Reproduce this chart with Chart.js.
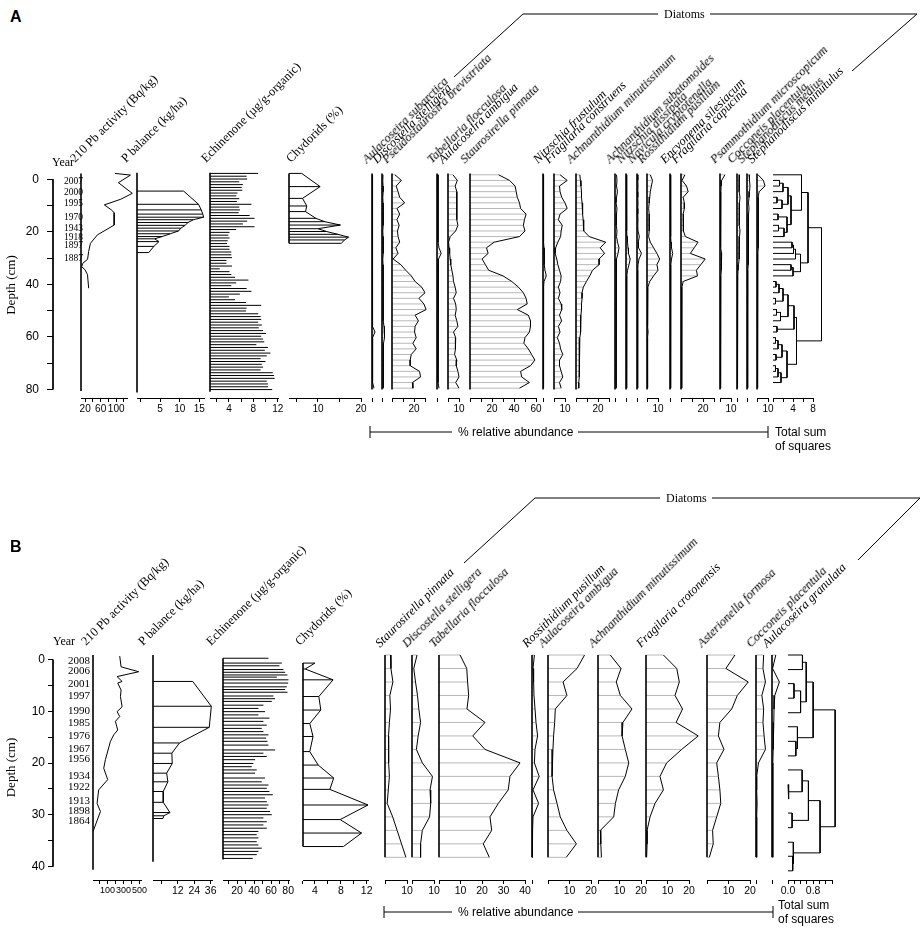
<!DOCTYPE html>
<html>
<head>
<meta charset="utf-8">
<title>Stratigraphic diagram</title>
<script src="https://cdn.jsdelivr.net/npm/chart.js@4.4.1/dist/chart.umd.min.js"></script>
<style>
  body { margin: 0; background: #fff; }
  #page { position: relative; width: 924px; height: 935px; overflow: hidden; font-family: "Liberation Serif", serif; color: #000; }
  #page canvas { position: absolute; }
  .rot { position: absolute; height: 14px; line-height: 14px; font-size: 12.5px; white-space: nowrap; transform-origin: 0 100%; transform: rotate(-45deg); }
  .taxon { font-style: italic; }
  .txt { position: absolute; white-space: nowrap; line-height: 14px; }
  .sans { font-family: "Liberation Sans", Arial, sans-serif; font-size: 12px; }
  .serif { font-size: 12px; }
  .panel { font-family: "Liberation Sans", Arial, sans-serif; font-weight: bold; font-size: 16px; }
  svg { position: absolute; left: 0; top: 0; }
</style>
</head>
<body>
<div id="page">
<svg width="924" height="935">
  <g fill="none" stroke="#000" stroke-width="1">
    <polyline points="454,77 523,14 658,14"/>
    <polyline points="710,14 917,14 852,71"/>
    <polyline points="464,563 535,498 660,498"/>
    <polyline points="712,498 920,498 858,560"/>
    <path d="M370 426V438M768 426V438M370 432H452M578 432H768"/>
    <path d="M384 906V918M773 906V918M384 912H452M578 912H773"/>
  </g>
</svg>
</div>
<script>
// ---------- Panel A data ----------
const yearsA = ['2007', '2000', '1995', '1970', '1943', '1918', '1897', '1887'];
const yearDepthsA = [0.7, 5.2, 9.4, 14.5, 18.9, 22.1, 25.4, 30.1];

// 210 Pb activity (Bq/kg)
const pbDepthA = [0.5, 1.1, 3.8, 7.6, 9.7, 11.7, 13.5, 14.5, 18.9, 22.4, 25.4, 28.3, 31.1, 32.5, 33.7, 34.9, 36.6, 41.4];
const pbA = [96.6, 137, 105.7, 141.6, 112, 69.5, 87.6, 94.9, 94.9, 51.6, 33.5, 29, 26.2, 13.8, 11, 20, 26, 29];

// P balance (kg/ha)
const pbalDepthA = [6.8, 11.5, 13.5, 15, 16.1, 17, 18, 19, 20, 21, 22, 23, 23.8, 24.8, 26.5, 28.7];
const pbalA = [11.0, 14.8, 15.5, 15.9, 16.1, 13.5, 12.1, 11.4, 10.3, 9.7, 7.6, 5.5, 3.6, 4.7, 3.4, 2.1];

// Echinenone (ug/g-organic)
const echDepthA = [0.5, 1.5, 2.5, 3.5, 4.5, 5.5, 6.5, 7.5, 8.5, 9.5,
  10.5, 11.5, 12.5, 13.5, 14.5, 15.5, 16.5, 17.5, 18.5, 19.5,
  20.5, 21.5, 22.5, 23.5, 24.5, 25.5, 26.5, 27.5, 28.5, 29.5,
  30.5, 31.5, 32.5, 33.5, 34.5, 35.5, 36.5, 37.5, 38.5, 39.5,
  40.5, 41.5, 42.5, 43.5, 44.5, 45.5, 46.5, 47.5, 48.5, 49.5,
  50.5, 51.5, 52.5, 53.5, 54.5, 55.5, 56.5, 57.5, 58.5, 59.5,
  60.5, 61.5, 62.5, 63.5, 64.5, 65.5, 66.5, 67.5, 68.5, 69.5,
  70.5, 71.5, 72.5, 73.5, 74.5, 75.5, 76.5, 77.5];
const echA = [8.8, 6.9, 7.0, 5.7, 6.3, 6.1, 6.2, 5.4, 5.2, 5.7,
  5.3, 7.7, 5.7, 5.8, 5.6, 7.4, 8.2, 7.0, 6.3, 8.2,
  5.2, 4.1, 3.9, 4.1, 3.8, 3.7, 4.1, 4.1, 4.4, 4.4,
  4.5, 3.6, 3.6, 4.5, 2.5, 4.1, 4.4, 5.0, 7.2, 5.2,
  4.4, 6.9, 7.7, 5.8, 4.0, 5.0, 6.8, 9.3, 6.9, 6.8,
  8.8, 9.2, 9.3, 8.8, 9.4, 8.9, 9.6, 10.1, 9.3, 9.6,
  9.8, 8.5, 10.4, 9.9, 10.8, 10.2, 9.2, 10.0, 9.4, 9.6,
  9.2, 11.2, 11.4, 11.5, 10.2, 10.4, 10.4, 11.1];

// Chydorids (%)
const chydDepthA = [0.5, 5.2, 9.4, 12.1, 14.1, 16.5, 17.7, 18.9, 20.2, 21.2, 22.2, 23.2, 24.2, 25.4];
const chydA = [6.2, 10.5, 6.4, 7.4, 7.1, 9.5, 11.6, 15.2, 10.0, 12.0, 14.6, 17.1, 16.2, 15.4];

// Diatoms (% relative abundance)
const diatomDepthA = [1, 3, 5, 7, 9, 11, 13, 15, 17, 19, 21, 23, 25, 27, 29, 31, 33, 35, 37, 39,
  41, 43, 45, 47, 49, 51, 53, 55, 57, 59, 61, 63, 65, 67, 69, 71, 73, 75, 77];
const taxaA = ['Aulacoseira subarctica', 'Discostella stelligera', 'Pseudostaurosira brevistriata',
  'Tabellaria flocculosa', 'Aulacoseira ambigua', 'Staurosirella pinnata', 'Nitzschia frustulum',
  'Fragilaria construens', 'Achnanthidium minutissimum', 'Achnanthidium subatomoides',
  'Nitzschia dissipata', 'Navicula cryptotenella', 'Rossithidium pusillum', 'Encyonema silesiacum',
  'Fragilaria capucina', 'Psammothidium microscopicum', 'Cocconeis placentula',
  'Stephanodiscus medius', 'Stephanodiscus minutulus'];
const aulSubA = [0.5, 0.5, 0.6, 0.5, 0.6, 0.5, 0.5, 0.6, 0.5, 0.5, 0.6, 0.5, 0.5, 0.6, 0.5, 0.5, 0.6, 0.5, 0.5, 0.6,
  0.5, 0.5, 0.6, 0.5, 0.5, 0.6, 0.5, 0.6, 3.0, 0.6, 0.5, 0.5, 0.6, 0.5, 0.5, 0.6, 0.5, 0.8, 2.0];
const discStelA = [1.0, 0.8, 1.0, 1.2, 0.8, 1.0, 1.5, 1.0, 1.2, 1.0, 0.8, 1.0, 1.2, 1.5, 1.0, 0.8, 1.0, 1.2, 1.0, 1.2,
  1.5, 1.0, 1.0, 1.2, 1.0, 1.2, 1.5, 2.0, 2.8, 2.2, 1.5, 1.2, 1.0, 1.5, 1.0, 1.2, 1.0, 1.5, 1.2];
const pseudoBrevA = [2.7, 8.5, 3.8, 5.5, 7.0, 11.5, 4.5, 7.0, 4.5, 6.5, 5.0, 5.5, 7.0, 3.5, 5.5, 1.0, 8.0, 12.5, 17.5, 21,
  27, 30, 24.5, 29, 31, 21, 24, 21, 20.5, 22, 19, 22, 17.5, 16.5, 16.5, 25, 26, 18.5, 19];
const tabFlocA = [1.0, 1.0, 1.2, 1.0, 1.0, 1.2, 1.0, 1.0, 1.0, 1.2, 1.0, 1.0, 1.5, 2.0, 4.2, 1.5, 1.0, 1.0, 1.2, 1.0,
  1.0, 1.2, 1.0, 1.0, 1.0, 1.2, 1.0, 1.0, 1.0, 1.2, 1.0, 1.0, 1.0, 1.2, 1.0, 1.2, 1.5, 1.2, 2.0];
const aulAmbA = [4.5, 8.5, 6.5, 8, 8, 8, 8, 8, 8, 9, 7, 2, 0.5, 1, 1.5, 2, 2.5, 3.5, 4.5, 5,
  6.5, 7.5, 5, 7, 7.5, 6.5, 8, 9, 5, 7, 6.5, 7, 6, 8, 7.5, 9, 10, 7, 10];
const staurPinA = [26, 36, 41, 42, 43, 45, 46, 51, 49.5, 48.5, 50, 45, 22, 15, 16.5, 11, 14, 17, 30, 38,
  44, 48.5, 51, 52, 43, 53, 55, 55, 54, 50, 49, 53, 56, 59, 55, 46, 47, 54, 45];
const nitzFrustA = [0.5, 0.6, 0.5, 0.5, 0.6, 0.5, 0.5, 0.6, 0.5, 0.5, 0.6, 0.5, 0.8, 1.0, 1.2, 1.0, 1.5, 2.0, 3.3, 1.0,
  0.6, 0.5, 0.5, 0.6, 0.5, 0.5, 0.6, 0.5, 0.5, 0.6, 0.5, 0.5, 0.6, 0.5, 0.5, 0.6, 0.5, 0.5, 0.6];
const fragConA = [5.5, 12, 5, 5.5, 7, 10, 12, 5.5, 4, 7.5, 6.5, 6, 3.5, 1.5, 1, 2.5, 3.5, 5, 6.5, 6,
  4, 5.5, 4, 6.5, 7, 5, 7, 4, 5.5, 3, 5, 6, 8, 5, 5, 6.5, 8, 5, 6.5];
const achnMinA = [3.5, 4, 4.5, 5, 5, 5.5, 6, 6, 6.5, 7, 7, 12, 27, 22, 26, 21, 21, 15, 12.5, 9.5,
  6.7, 5.5, 5.5, 5, 5, 4.5, 4.5, 4, 4, 3.5, 3, 3, 3, 3, 3, 3, 3, 2.5, 2.5];
const achnSubA = [1.5, 2.0, 1.5, 2.5, 1.5, 1.0, 2.0, 1.5, 1.0, 1.5, 2.0, 1.5, 2.5, 4.0, 3.0, 1.5, 1.0, 1.5, 1.0, 1.0,
  1.2, 1.0, 1.5, 1.0, 1.2, 1.0, 1.5, 1.0, 1.2, 1.0, 1.5, 1.0, 1.2, 1.0, 1.0, 1.2, 1.0, 1.0, 1.2];
const nitzDissA = [0.6, 0.6, 0.8, 0.6, 0.6, 0.8, 0.6, 0.6, 0.8, 0.6, 0.8, 1.0, 1.5, 2.0, 2.5, 4.2, 3.0, 1.5, 0.8, 0.6,
  0.6, 0.6, 0.8, 0.6, 0.6, 0.8, 0.6, 0.6, 0.8, 0.6, 0.6, 0.8, 0.6, 0.6, 0.8, 0.6, 0.6, 0.8, 0.6];
const navCryA = [0.8, 0.8, 1.0, 0.8, 0.8, 1.0, 0.8, 0.8, 1.0, 0.8, 1.0, 2.4, 1.2, 1.5, 4.5, 2.0, 1.0, 0.8, 0.8, 0.6,
  0.6, 0.6, 0.8, 0.6, 0.6, 0.8, 0.6, 0.6, 0.8, 0.6, 0.6, 0.8, 0.6, 0.6, 0.8, 0.6, 0.6, 0.8, 0.6];
const rossPusA = [3, 5, 4, 3, 2.5, 2, 1.5, 2, 2, 2, 2, 1.5, 3, 6, 9, 11.5, 9, 10, 6, 2.5,
  0.8, 0.6, 0.5, 0.6, 0.5, 0.5, 0.6, 0.5, 1.0, 0.5, 0.5, 0.6, 0.5, 0.5, 0.6, 0.5, 0.5, 0.6, 0.5];
const encySilA = [0.6, 0.6, 0.8, 0.6, 0.6, 0.8, 0.6, 0.6, 0.8, 0.6, 0.6, 0.8, 1.0, 1.5, 2.7, 1.5, 0.8, 0.6, 0.6, 0.6,
  0.6, 0.6, 0.8, 0.6, 0.6, 0.8, 0.6, 0.6, 0.8, 0.6, 0.6, 0.8, 0.6, 0.6, 0.8, 0.6, 0.6, 0.8, 0.6];
const fragCapA = [3.5, 1, 5, 6.5, 2, 3, 3, 2, 2, 2, 2.5, 4, 15.5, 12, 8.5, 22, 18, 14, 15, 2,
  0.8, 0.6, 0.6, 0.8, 0.6, 0.6, 0.8, 0.6, 0.6, 0.8, 0.6, 0.6, 0.8, 0.6, 0.6, 0.8, 0.6, 0.6, 0.8];
const psammoA = [4.5, 1.5, 1, 0.8, 0.6, 0.6, 0.5, 0.5, 0.6, 0.5, 0.5, 0.6, 0.5, 0.8, 1.5, 1.2, 1, 1.5, 0.8, 0.5,
  0.5, 0.6, 0.5, 0.5, 0.6, 0.5, 0.5, 0.6, 0.5, 0.5, 0.6, 0.5, 0.5, 0.6, 0.5, 0.5, 0.6, 0.5, 0.5];
const coccPlacA = [2.5, 2, 2.5, 2, 3, 2.5, 2, 2.5, 2, 2.5, 3, 2.5, 2, 2, 2.5, 2, 1.5, 1, 0.8, 0.5,
  0.5, 0.6, 0.5, 0.5, 0.6, 0.5, 0.5, 0.6, 0.5, 0.5, 0.6, 0.5, 0.5, 0.6, 0.5, 0.5, 0.6, 0.5, 0.5];
const stMedA = [2, 2.5, 3, 2.5, 2, 1.5, 2, 1.5, 1.5, 1.5, 1, 1.5, 1, 1, 1.5, 1.2, 1, 0.8, 0.8, 0.6,
  0.6, 0.6, 0.8, 0.6, 0.6, 0.8, 0.6, 0.6, 0.8, 0.6, 0.6, 0.8, 0.6, 0.6, 0.8, 0.6, 0.6, 0.8, 0.6];
const stMinA = [1, 5.8, 7.3, 2, 1, 1.5, 1, 1, 1.2, 1.5, 1.2, 1, 1, 1, 0.8, 0.5, 0.6, 0.5, 0.5, 0.6,
  0.5, 0.5, 0.6, 0.5, 0.5, 0.6, 0.5, 0.5, 0.6, 0.5, 0.5, 0.6, 0.5, 0.5, 0.6, 0.5, 0.5, 0.6, 0.5];
const diatomsA = [aulSubA, discStelA, pseudoBrevA, tabFlocA, aulAmbA, staurPinA, nitzFrustA, fragConA,
  achnMinA, achnSubA, nitzDissA, navCryA, rossPusA, encySilA, fragCapA, psammoA, coccPlacA, stMedA, stMinA];
const axisMaxA = [3, 3, 30, 4, 10, 60, 3, 10, 30, 4, 4, 4, 10, 3, 30, 10, 3, 3, 10];
const axisLabA = [[], [], [20], [], [10], [20, 40, 60], [], [10], [20], [], [], [], [10], [], [20], [10], [], [], [10]];

// CONISS dendrogram (total sum of squares)
const dendLeavesA = [1, 3, 5, 7, 9, 11, 13, 15, 17, 19, 21, 23, 25, 27, 29, 31, 33, 35, 37,
  39, 41, 43, 45, 47, 49, 51, 53, 55, 57, 59, 61, 63, 65, 67, 69, 71, 73, 75];
const dendMergeA = [[-2, -3], [1, -4], [-5, -6], [3, -7], [2, 4], [-8, -9], [-10, -11], [7, -12], [6, 8], [5, 9],
  [-1, 10], [-13, -14], [12, -15], [13, -16], [-17, -18], [15, -19], [14, 16], [11, 17],
  [-20, -21], [19, -22], [-23, -24], [20, 21], [-25, -26], [23, -27], [22, 24], [-28, -29], [25, 26],
  [-30, -31], [28, -32], [-33, -34], [29, 30], [-35, -36], [32, -37], [33, -38], [31, 34], [27, 35], [18, 36]];
const dendHeightA = [1.3, 2.0, 0.8, 1.8, 3.0, 1.0, 1.1, 2.2, 2.8, 3.6, 5.7, 3.8, 4.1, 4.5, 3.6, 4.0, 5.5, 7.0,
  0.6, 1.2, 0.5, 2.0, 0.7, 1.5, 3.0, 0.8, 4.2, 0.5, 1.0, 0.6, 1.8, 0.5, 1.0, 1.6, 2.8, 4.7, 9.7];

// ---------- Panel B data ----------
const yearsB = ['2008', '2006', '2001', '1997', '1990', '1985', '1976', '1967', '1956', '1934', '1922', '1913', '1898', '1864'];
const yearDepthsB = [0.3, 2.3, 4.8, 7.1, 9.9, 12.2, 14.7, 17.2, 19.3, 22.5, 24.7, 27.3, 29.2, 31.2];

const pbDepthB = [0.2, 2.2, 3.1, 4.0, 4.9, 5.2, 6.5, 7.7, 9.6, 10.5, 11.4, 12.3, 13.9, 14.8, 16.0, 19.4, 21.0, 23.1, 25.0, 27.5, 29.0, 32.7];
const pbB = [254, 271, 491, 221, 284, 229, 271, 263, 284, 221, 254, 200, 229, 179, 138, 75, 54, 104, -9, -29, 13, -79];

const pbalDepthB = [4.9, 9.5, 13.4, 16.3, 18.2, 20.1, 21.9, 23.5, 25.3, 27.3, 29.2, 29.8, 30.3];
const pbalB = [22.9, 36.5, 35.0, 13.2, 7.6, 7.9, 3.8, 4.7, 1.3, 1.3, 6.2, 1.7, 1.1];

const echDepthB = [0.6, 1.5, 2.0, 2.7, 3.2, 3.7, 4.1, 4.6, 5.2, 5.9, 6.4, 6.9, 7.6, 8.1, 8.6, 9.3, 9.9, 10.5, 11.1, 11.7,
  12.3, 13.0, 13.6, 14.2, 14.8, 15.4, 16.0, 16.7, 17.6, 18.2, 18.8, 19.4, 20.1, 20.7, 21.3, 21.9, 22.8, 23.5, 24.1, 24.7,
  25.3, 25.9, 26.5, 27.2, 27.8, 28.4, 29.0, 29.6, 30.2, 30.9, 31.5, 32.1, 32.7, 33.3, 33.9, 34.6, 35.2, 35.8, 36.4, 37.0, 37.7];
const echB = [56.9, 72.5, 69.8, 74.5, 76.5, 79.2, 66.7, 80.4, 80, 78.4, 76.5, 79.2, 62.7, 64.7, 60.8, 51, 45.1, 52.9, 45.1, 58,
  51, 54.9, 49, 51, 56.9, 54.1, 55.7, 56.9, 64.7, 51, 54.9, 41.2, 39.2, 37.3, 43.1, 41.2, 52.9, 49, 56.9, 54.9,
  58, 62, 52.9, 54.9, 56.9, 54.9, 58.8, 60.8, 51, 54.9, 51, 54.9, 45.1, 43.1, 45.1, 43.1, 45.1, 49, 45.1, 43.1, 38.4];

const chydDepthB = [1.5, 2.6, 4.6, 7.7, 10.2, 12.7, 15.1, 17.9, 20.4, 22.8, 24.9, 27.8, 30.5, 33, 35.5];
const chydB = [4.0, 2.5, 6.8, 4.6, 4.9, 3.2, 3.7, 3.2, 4.5, 6.9, 6.3, 12.2, 7.9, 11.2, 8.4];

const diatomDepthB = [0, 2.5, 5, 7.5, 10, 12.5, 15, 17.5, 20, 22.5, 25, 27.5, 30, 32.5, 35, 37.5];
const taxaB = ['Staurosirella pinnata', 'Discostella stelligera', 'Tabellaria flocculosa', 'Rossithidium pusillum',
  'Aulacoseira ambigua', 'Achnanthidium minutissimum', 'Fragilaria crotonensis', 'Asterionella formosa',
  'Cocconeis placentula', 'Aulacoseira granulata'];
const staurPinB = [2.5, 2.7, 3.6, 2.2, 2.5, 2, 1.6, 1.5, 1.8, 2, 1.5, 1, 3.5, 5.5, 7.5, 9.5];
const discStelB = [2.3, 0.8, 1.6, 2.5, 3.1, 3.9, 2.8, 2, 4.7, 9.3, 8.2, 8.5, 8, 4.7, 3.9, 3.9];
const tabFlocB = [9.8, 12.9, 13.3, 13.8, 13, 21.4, 15.7, 21.4, 37.7, 33, 32.2, 27.6, 23.7, 24.5, 20.6, 23.4];
const rossPusB = [1.2, 0.5, 0.8, 1, 1.5, 2, 2.8, 1.5, 1.2, 3.6, 0.5, 3.3, 0.5, 0.3, 0.2, 0.2];
const aulAmbB = [17, 13.5, 7, 8.8, 3.4, 3.1, 2.6, 2.3, 1.9, 1.9, 2.6, 4.2, 5.7, 8.8, 13.2, 8.5];
const achnMinB = [5.7, 10.7, 8.5, 10.4, 15.8, 11.6, 11.2, 12.7, 14.3, 12.7, 9.6, 8.1, 7.3, 1.1, 1.3, 1.6];
const fragCrotB = [8.1, 14.3, 15.5, 13.5, 17, 14, 24.3, 16.6, 9.6, 6.5, 8.1, 4.2, 1.9, 0.5, 0.5, 0.3];
const astFormB = [13, 8.8, 19.2, 14.1, 11.5, 6, 5.3, 7.9, 4.5, 5.3, 6, 6.4, 4.5, 2.6, 2.9, 1.1];
const coccPlacB = [3.4, 3.1, 4.2, 2.6, 3.4, 3.1, 3.6, 4.2, 1.1, 0.3, 0.3, 0.5, 0.3, 0.3, 0.3, 0.3];
const aulGranB = [1.9, 0.3, 3.7, 1.4, 1, 0.9, 0.6, 0.6, 0.4, 0.4, 0.4, 0.4, 0.4, 0.4, 0.4, 0.4];
const diatomsB = [staurPinB, discStelB, tabFlocB, rossPusB, aulAmbB, achnMinB, fragCrotB, astFormB, coccPlacB, aulGranB];
const axisMaxB = [10, 10, 40, 3, 20, 20, 20, 20, 4, 3];
const axisLabB = [[10], [10], [10, 20, 30, 40], [], [10, 20], [10, 20], [10, 20], [10, 20], [], []];

const dendLeavesB = [0, 2.7, 5.3, 8, 10.7, 13.3, 16, 18.7, 21.3, 24, 26.7, 29.3, 32, 34.7, 37.3, 40];
const dendMergeB = [[-1, -2], [-3, -4], [2, -5], [1, 3], [-7, -8], [-6, 5], [4, 6], [-10, -11], [-9, 8],
  [-12, -13], [9, 10], [-15, -16], [-14, 12], [11, 13], [7, 14]];
const dendHeightB = [0.46, 0.19, 0.4, 0.58, 0.25, 0.3, 0.8, 0.03, 0.45, 0.13, 0.65, 0.15, 0.17, 1.02, 1.5];

// ---------- layout ----------
const colXA = [372, 382, 392, 437, 448, 470, 543, 554, 576, 615, 626, 637, 647, 670, 681, 720, 737, 747, 757];
const colXB = [385, 412, 439, 532, 548, 598, 646, 707, 756, 772];
const PANEL_A = {top: 172, dMax: 80.5, ppd: 2.81, tickFont: 10, pctPx: 1.1};
const PANEL_B = {top: 655, dMax: 41.7, ppd: 5.4, tickFont: 10.5, pctPx: 2.15};

Chart.defaults.font.family = '"Liberation Sans", Arial, sans-serif';
Chart.defaults.color = '#000';
const page = document.getElementById('page');
const HATCH = '#b8b8b8';

function addCanvas(left, top, w, h) {
  const cv = document.createElement('canvas');
  cv.width = Math.round(w);
  cv.height = Math.round(h);
  cv.style.left = Math.round(left) + 'px';
  cv.style.top = Math.round(top) + 'px';
  page.appendChild(cv);
  return cv;
}

function curve(d, v) {
  return {data: d.map((y, i) => ({x: v[i], y})), showLine: true, borderColor: '#000', borderWidth: 1, pointRadius: 0, clip: false};
}
function hbars(d, v, base, color) {
  const pts = [];
  d.forEach((y, i) => { pts.push({x: base, y}, {x: v[i], y}, {x: null, y: null}); });
  return {data: pts, showLine: true, spanGaps: false, borderColor: color, borderWidth: 1, pointRadius: 0, clip: false};
}
function baseline(base, d0, d1) {
  return {data: [{x: base, y: d0}, {x: base, y: d1}], showLine: true, borderColor: '#000', borderWidth: 1.6, pointRadius: 0, clip: false};
}
function dendro(leaves, merges, heights) {
  const nodes = [];
  const pts = [];
  const node = k => (k < 0 ? {h: 0, y: leaves[-k - 1]} : nodes[k - 1]);
  merges.forEach((m, i) => {
    const a = node(m[0]), b = node(m[1]), h = heights[i];
    pts.push({x: a.h, y: a.y}, {x: h, y: a.y}, {x: h, y: b.y}, {x: b.h, y: b.y}, {x: null, y: null});
    nodes.push({h, y: (a.y + b.y) / 2});
  });
  return {data: pts, showLine: true, spanGaps: false, borderColor: '#000', borderWidth: 1, pointRadius: 0, clip: false};
}

// one stratigraphic column = one small chart
function column(panel, c) {
  const padL = 16, padR = 16, padT = 8, axisH = 24;
  const plotH = panel.dMax * panel.ppd;
  const x0 = Math.round(c.x0), x1 = Math.max(Math.round(c.x1), x0 + 2);
  const cv = addCanvas(x0 - padL, panel.top - padT, (x1 - x0) + padL + padR, plotH + padT + axisH);
  new Chart(cv, {
    type: 'scatter',
    data: {datasets: c.datasets},
    options: {
      responsive: false, animation: false, events: [],
      layout: {padding: {left: padL, right: padR, top: padT, bottom: 0}},
      plugins: {legend: {display: false}, tooltip: {enabled: false}},
      elements: {point: {radius: 0}, line: {tension: 0}},
      scales: {
        x: {
          type: 'linear', position: 'bottom', min: c.min, max: c.max,
          afterBuildTicks: s => { s.ticks = c.ticks.map(v => ({value: v})); },
          afterFit: s => { s.height = axisH; s.paddingLeft = 0; s.paddingRight = 0; },
          ticks: {
            autoSkip: false, maxRotation: 0, minRotation: 0, padding: 1, color: '#000',
            font: {size: c.font || panel.tickFont},
            callback: v => (c.labels.some(l => Math.abs(l - v) < 1e-6) ? (c.fmt ? c.fmt(v) : String(v)) : '')
          },
          grid: {drawOnChartArea: false, drawTicks: true, tickLength: 4, color: '#000'},
          border: {display: c.ticks.length > 1, color: '#000'}
        },
        y: {type: 'linear', reverse: true, min: 0, max: panel.dMax, display: false}
      }
    }
  });
}

// depth axis with the dated years beside it
function depthAxis(panel, a) {
  const plotH = panel.dMax * panel.ppd;
  const cv = addCanvas(0, panel.top - 8, 91, plotH + 16);
  new Chart(cv, {
    type: 'scatter',
    data: {datasets: [baseline(0, 0, a.end)].map(ds => Object.assign(ds, {borderWidth: 1}))},
    options: {
      responsive: false, animation: false, events: [],
      layout: {padding: {left: 0, right: 0, top: 8, bottom: 8}},
      plugins: {legend: {display: false}, tooltip: {enabled: false}},
      scales: {
        x: {type: 'linear', min: 0, max: 1, display: false},
        y: {
          type: 'linear', position: 'left', reverse: true, min: 0, max: panel.dMax,
          afterBuildTicks: s => { s.ticks = a.ticks.map(v => ({value: v})); },
          afterFit: s => { s.width = 53; },
          ticks: {autoSkip: false, padding: a.pad, color: '#000', font: {size: 12},
            callback: v => (a.labels.includes(v) ? String(v) : '')},
          grid: {drawOnChartArea: false, tickLength: a.tickLen, color: '#000'},
          border: {display: false},
          title: {display: true, text: 'Depth (cm)', color: '#000', padding: {top: 4, bottom: 0},
            font: {family: '"Liberation Serif", serif', size: 13}}
        },
        yr: {
          axis: 'y', type: 'linear', position: 'right', reverse: true, min: 0, max: panel.dMax,
          afterBuildTicks: s => { s.ticks = a.yearDepths.map(v => ({value: v})); },
          afterFit: s => { s.width = 37; },
          ticks: {autoSkip: false, padding: a.yearPad, color: '#000',
            font: {family: '"Liberation Serif", serif', size: a.yearFont},
            callback: (v, i) => a.years[i]},
          grid: {display: false},
          border: {display: false}
        }
      }
    }
  });
}

function text(cls, html, left, top) {
  const el = document.createElement('div');
  el.className = cls;
  el.innerHTML = html;
  el.style.left = left + 'px';
  el.style.top = top + 'px';
  page.appendChild(el);
}
function rotLabel(str, x, yBottom, italic) {
  text('rot' + (italic ? ' taxon' : ''), str, x, yBottom - 14);
}

// ---------- Panel A ----------
depthAxis(PANEL_A, {ticks: [0, 10, 20, 30, 40, 50, 60, 70, 80], labels: [0, 20, 40, 60, 80], end: 80,
  tickLen: 6, pad: 8, years: yearsA, yearDepths: yearDepthsA, yearPad: 2, yearFont: 9.5});

column(PANEL_A, {x0: 81, x1: 126.7, min: 9.2, max: 128, ticks: [20, 40, 60, 80, 100, 120], labels: [20, 60, 100],
  datasets: [curve(pbDepthA, pbA), baseline(9.2, 0.5, 78)]});
column(PANEL_A, {x0: 137, x1: 203.7, min: -0.9, max: 16.2, ticks: [0, 5, 10, 15], labels: [5, 10, 15],
  datasets: [curve(pbalDepthA, pbalA), baseline(-0.9, 0.3, 78.5), hbars(pbalDepthA, pbalA, -0.9, '#000')]});
column(PANEL_A, {x0: 210, x1: 278, min: 0.9, max: 12.05, ticks: [2, 4, 6, 8, 10, 12], labels: [4, 8, 12],
  datasets: [baseline(0.9, 0.3, 78.3), hbars(echDepthA, echA, 0.9, '#000')]});
column(PANEL_A, {x0: 289, x1: 361, min: 3.26, max: 20, ticks: [5, 10, 15, 20], labels: [10, 20],
  datasets: [curve(chydDepthA, chydA), baseline(3.26, 0.5, 25.4), hbars(chydDepthA, chydA, 3.26, '#000')]});

diatomsA.forEach((vals, i) => {
  const max = axisMaxA[i];
  const ticks = [];
  if (max >= 10) { for (let t = 0; t <= max; t += 10) ticks.push(t); } else { ticks.push(0); }
  column(PANEL_A, {x0: colXA[i], x1: colXA[i] + max * PANEL_A.pctPx, min: 0, max, ticks, labels: axisLabA[i],
    datasets: [curve(diatomDepthA, vals), baseline(0, 0.5, 77.5), hbars(diatomDepthA, vals, 0, HATCH)]});
  rotLabel(taxaA[i], colXA[i] - 3, 166, true);
});

column(PANEL_A, {x0: 773, x1: 813, min: 0, max: 8, ticks: [0, 2, 4, 6, 8], labels: [4, 8],
  datasets: [dendro(dendLeavesA, dendMergeA, dendHeightA)]});

// ---------- Panel B ----------
depthAxis(PANEL_B, {ticks: [0, 5, 10, 15, 20, 25, 30, 35, 40], labels: [0, 10, 20, 30, 40], end: 40,
  tickLen: 5, pad: 3, years: yearsB, yearDepths: yearDepthsB, yearPad: 6, yearFont: 11});

column(PANEL_B, {x0: 93, x1: 141.4, min: -80, max: 520, ticks: [0, 100, 200, 300, 400, 500], labels: [100, 300, 500],
  font: 9, datasets: [curve(pbDepthB, pbB), baseline(-80, 0, 39.8)]});
column(PANEL_B, {x0: 153, x1: 212.4, min: -6.2, max: 37, ticks: [0, 12, 24, 36], labels: [12, 24, 36],
  datasets: [curve(pbalDepthB, pbalB), baseline(-6.2, 0, 38.3), hbars(pbalDepthB, pbalB, -6.2, '#000')]});
column(PANEL_B, {x0: 223, x1: 288.9, min: 3.5, max: 81, ticks: [10, 20, 30, 40, 50, 60, 70, 80], labels: [20, 40, 60, 80],
  datasets: [baseline(3.5, 0.6, 37.9), hbars(echDepthB, echB, 3.5, '#000')]});
column(PANEL_B, {x0: 303, x1: 368.3, min: 2.15, max: 12.2, ticks: [2, 4, 6, 8, 10, 12], labels: [4, 8, 12],
  datasets: [curve(chydDepthB, chydB), baseline(2.15, 1.5, 35.5), hbars(chydDepthB, chydB, 2.15, '#000')]});

diatomsB.forEach((vals, i) => {
  const max = axisMaxB[i];
  const ticks = [];
  if (max >= 10) { for (let t = 0; t <= max; t += 10) ticks.push(t); } else { ticks.push(0); }
  column(PANEL_B, {x0: colXB[i], x1: colXB[i] + max * PANEL_B.pctPx, min: 0, max, ticks, labels: axisLabB[i],
    datasets: [curve(diatomDepthB, vals), baseline(0, 0, 37.5), hbars(diatomDepthB, vals, 0, HATCH)]});
  rotLabel(taxaB[i], colXB[i] - 3, 650, true);
});

column(PANEL_B, {x0: 788, x1: 831.75, min: 0, max: 1.4, ticks: [0, 0.2, 0.4, 0.6, 0.8, 1.0, 1.2, 1.4], labels: [0, 0.8],
  fmt: v => v.toFixed(1), datasets: [dendro(dendLeavesB, dendMergeB, dendHeightB)]});

// ---------- headers and annotations ----------
const headA = [['210 Pb activity (Bq/kg)', 77], ['P balance (kg/ha)', 128], ['Echinenone (&micro;g/g-organic)', 208], ['Chydorids (%)', 293]];
const headB = [['210 Pb activity (Bq/kg)', 88], ['P balance (kg/ha)', 145], ['Echinenone (&micro;g/g-organic)', 213], ['Chydorids (%)', 302]];
headA.forEach(h => rotLabel(h[0], h[1], 165, false));
headB.forEach(h => rotLabel(h[0], h[1], 648, false));

text('txt serif', 'Year', 52, 155);
text('txt serif', 'Year', 53, 634);
text('txt panel', 'A', 10, 10);
text('txt panel', 'B', 10, 540);
text('txt serif', 'Diatoms', 664, 7);
text('txt serif', 'Diatoms', 666, 491);
text('txt sans', '% relative abundance', 458, 425);
text('txt sans', '% relative abundance', 458, 905);
text('txt sans', 'Total sum<br>of squares', 775, 425);
text('txt sans', 'Total sum<br>of squares', 778, 898);
</script>
</body>
</html>
